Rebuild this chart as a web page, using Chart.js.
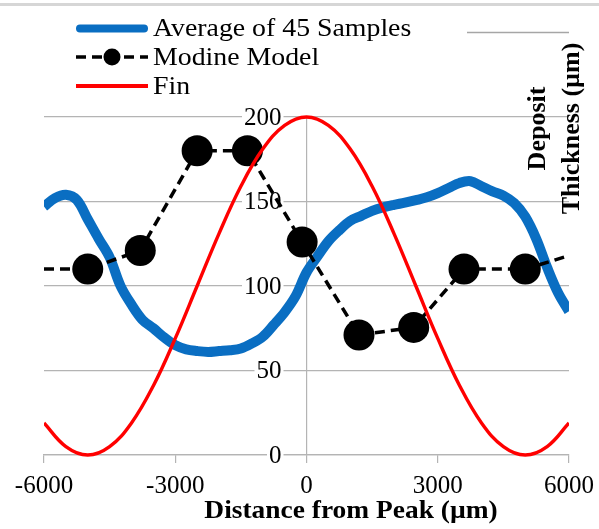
<!DOCTYPE html>
<html>
<head>
<meta charset="utf-8">
<script src="https://cdn.jsdelivr.net/npm/chart.js@4.4.1/dist/chart.umd.min.js"></script>
<style>
  html, body { margin: 0; padding: 0; background: #fff; }
  #wrap { position: relative; width: 599px; height: 529px; }
  #topRule { position: absolute; left: 0; top: 3px; width: 599px; height: 3px; background: #d6d6d6; }
  canvas { display: block; }
</style>
</head>
<body>
<div id="wrap">
  <canvas id="c" width="599" height="529"></canvas>
  <div id="topRule"></div>
</div>
<script>
// Measured deposit thickness, averaged over 45 samples (µm vs distance from fin peak)
const avgX = [-6000, -5750, -5500, -5250, -5000, -4750, -4500, -4250, -4000, -3750,
              -3500, -3250, -3000, -2750, -2500, -2250, -2000, -1750, -1500, -1250,
              -1000, -750, -500, -250, 0, 250, 500, 750, 1000, 1250,
              1500, 1750, 2000, 2250, 2500, 2750, 3000, 3250, 3500, 3750,
              4000, 4250, 4500, 4750, 5000, 5250, 5500, 5750, 6000];
const avgY = [147, 152, 154, 151, 139.5, 128, 117, 100, 89, 80,
              75, 69.5, 65, 62.5, 61.5, 61, 61.5, 62, 63, 66,
              70, 77, 84.5, 94, 108, 117.5, 126.5, 133, 138.5, 141.5,
              144.5, 146.5, 148, 149.3, 150.8, 152.5, 155, 158, 161, 162,
              159, 156, 153.5, 149, 141, 128, 111, 96, 85];

// Modine model prediction
const modineX = [-6000, -5000, -3800, -2500, -1350, -100, 1200, 2450, 3600, 5000, 6000];
const modineY = [110, 110, 121, 180, 180, 126, 71, 75.5, 110, 110, 118];

// Fin profile
const finX = [-6000, -5500, -5000, -4500, -4000, -3500, -3000, -2500, -2000, -1500, -1000, -500, 0,
              500, 1000, 1500, 2000, 2500, 3000, 3500, 4000, 4500, 5000, 5500, 6000];
const finY = [19, 5, 0, 5, 19, 41, 69, 100, 131, 159, 181, 195, 200,
              195, 181, 159, 131, 100, 69, 41, 19, 5, 0, 5, 19];

// Axis settings
const xRange = [-6000, 6000];
const xStep = 3000;
const yRange = [0, 200];
const yStep = 50;

const seriesNames = ['Average of 45 Samples', 'Modine Model', 'Fin'];
const xTitle = 'Distance from Peak (µm)';
const yTitleLines = ['Deposit', 'Thickness (µm)'];

const pairs = (xs, ys) => xs.map((x, i) => ({ x: x, y: ys[i] }));

const SERIF = '"Liberation Serif", "Times New Roman", serif';
const GRID = '#b4b4b4';

// Draw text slightly widened horizontally
function wideText(ctx, text, x, y, sx) {
  ctx.save();
  ctx.translate(x, y);
  ctx.scale(sx, 1);
  ctx.fillText(text, 0, 0);
  ctx.restore();
}

const decorPlugin = {
  id: 'decor',
  // value labels of the vertical axis, set on white boxes to the left of the x = 0 axis
  beforeDatasetsDraw(chart) {
    const ctx = chart.ctx;
    const ys = chart.scales.y;
    const ax = chart.scales.x.getPixelForValue(0);
    ctx.save();
    ctx.font = '25px ' + SERIF;
    ctx.textAlign = 'right';
    ctx.textBaseline = 'middle';
    ys.ticks.forEach((t) => {
      const py = ys.getPixelForValue(t.value);
      const label = String(t.value);
      const w = ctx.measureText(label).width;
      ctx.fillStyle = '#fff';
      ctx.fillRect(ax - 25 - w - 2, py - 8, w + 4, 16);
      ctx.fillStyle = '#000';
      ctx.fillText(label, ax - 25, py + 1);
    });
    ctx.restore();
  },
  // legend block and axis titles
  afterDraw(chart) {
    const ctx = chart.ctx;
    const ds = chart.data.datasets;
    ctx.save();

    const rows = [28.5, 57, 86];
    const baselines = [35.5, 64.5, 93.5];
    const x0 = 76, x1 = 148;
    ds.forEach((d, i) => {
      const y = rows[i];
      ctx.save();
      ctx.strokeStyle = d.borderColor;
      ctx.lineWidth = i === 0 ? 8 : (i === 1 ? 3.5 : 4);
      ctx.lineCap = i === 0 ? 'round' : 'butt';
      ctx.setLineDash(d.borderDash || []);
      ctx.beginPath();
      ctx.moveTo(x0 + (i === 0 ? 4 : 0), y);
      ctx.lineTo(x1 - (i === 0 ? 4 : 0), y);
      ctx.stroke();
      if (i === 1) {
        ctx.setLineDash([]);
        ctx.fillStyle = d.pointBackgroundColor;
        ctx.beginPath();
        ctx.arc((x0 + x1) / 2, y, 8.5, 0, Math.PI * 2);
        ctx.fill();
      }
      ctx.restore();
      ctx.fillStyle = '#000';
      ctx.font = '26px ' + SERIF;
      ctx.textAlign = 'left';
      ctx.textBaseline = 'alphabetic';
      wideText(ctx, d.label, 153, baselines[i], 1.07);
    });

    // unlabelled key line at the top right
    ctx.strokeStyle = '#a6a6a6';
    ctx.lineWidth = 1.5;
    ctx.beginPath();
    ctx.moveTo(467, 32.5);
    ctx.lineTo(569, 32.5);
    ctx.stroke();

    // x-axis title
    ctx.fillStyle = '#000';
    ctx.font = 'bold 26px ' + SERIF;
    ctx.textAlign = 'center';
    ctx.textBaseline = 'alphabetic';
    wideText(ctx, xTitle, 351, 518, 1.055);

    // y-axis title, two rotated lines
    ctx.save();
    ctx.translate(555, 128.5);
    ctx.rotate(-Math.PI / 2);
    ctx.textBaseline = 'middle';
    ctx.fillText(yTitleLines[0], 0, -17);
    ctx.fillText(yTitleLines[1], 0, 17);
    ctx.restore();

    ctx.restore();
  }
};

const inRange = (ctx) => {
  const x = ctx.raw && ctx.raw.x;
  return x > xRange[0] && x < xRange[1];
};

new Chart(document.getElementById('c'), {
  type: 'line',
  data: {
    datasets: [
      {
        label: seriesNames[0],
        data: pairs(avgX, avgY),
        borderColor: '#0a6ec2',
        borderWidth: 10,
        borderCapStyle: 'butt',
        borderJoinStyle: 'round',
        pointRadius: 0,
        tension: 0.35,
        order: 3,
        clip: { left: 0, right: 0, top: 12, bottom: 12 }
      },
      {
        label: seriesNames[1],
        data: pairs(modineX, modineY),
        borderColor: '#000',
        borderWidth: 3.5,
        borderDash: [10, 6],
        pointBackgroundColor: '#000',
        pointBorderWidth: 0,
        pointRadius: (ctx) => (inRange(ctx) ? 15.5 : 0),
        pointHoverRadius: (ctx) => (inRange(ctx) ? 15.5 : 0),
        tension: 0,
        order: 2,
        clip: { left: 0, right: 0, top: 20, bottom: 20 }
      },
      {
        label: seriesNames[2],
        data: pairs(finX, finY),
        borderColor: '#ff0000',
        borderWidth: 3.4,
        pointRadius: 0,
        tension: 0.4,
        order: 1,
        clip: { left: 0, right: 0, top: 8, bottom: 8 }
      }
    ]
  },
  options: {
    responsive: false,
    animation: false,
    events: [],
    layout: { padding: { left: 44, right: 30, top: 117, bottom: 24 } },
    plugins: { legend: { display: false }, tooltip: { enabled: false }, title: { display: false } },
    scales: {
      x: {
        type: 'linear',
        position: 'bottom',
        min: xRange[0],
        max: xRange[1],
        afterFit: (scale) => {
          scale.height = 50;
          scale.paddingLeft = 0;
          scale.paddingRight = 0;
        },
        ticks: {
          stepSize: xStep,
          color: '#000',
          font: { family: SERIF, size: 25 },
          padding: 8,
          maxRotation: 0,
          callback: (v) => String(v)
        },
        grid: { drawOnChartArea: false, drawTicks: true, tickLength: 8, color: GRID, lineWidth: 1.2 },
        border: { display: true, color: GRID, width: 1.2 }
      },
      y: {
        type: 'linear',
        position: { x: 0 },
        min: yRange[0],
        max: yRange[1],
        ticks: {
          stepSize: yStep,
          display: false
        },
        grid: { color: GRID, lineWidth: 1.2, drawTicks: false },
        border: { display: true, color: GRID, width: 1.2 }
      }
    }
  },
  plugins: [decorPlugin]
});
</script>
</body>
</html>
